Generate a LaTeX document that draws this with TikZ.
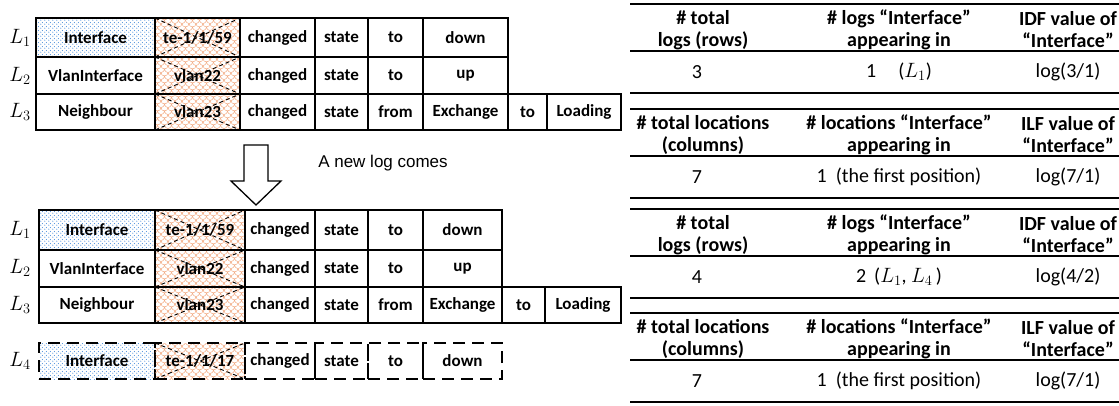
\documentclass[tikz,border=0pt]{standalone}
\usepackage{fontspec}
\setmainfont{Carlito}
\newfontfamily\arialf{Liberation Sans}
\usetikzlibrary{patterns}
\pgfdeclarepatternformonly{fishscales}{\pgfqpoint{-1pt}{-1pt}}{\pgfqpoint{8pt}{8pt}}{\pgfqpoint{7pt}{7pt}}{%
 \pgfsetlinewidth{0.5pt}%
 \pgfpathmoveto{\pgfqpoint{0pt}{3.5pt}}\pgfpatharc{180}{360}{3.5pt}%
 \pgfpathmoveto{\pgfqpoint{0pt}{3.5pt}}\pgfpatharc{270}{360}{3.5pt}\pgfpatharc{180}{270}{3.5pt}%
 \pgfusepath{stroke}}
\pgfdeclarepatternformonly{bluedotpat}{\pgfqpoint{0pt}{0pt}}{\pgfqpoint{4pt}{4pt}}{\pgfqpoint{4pt}{4pt}}{%
 \pgfpathcircle{\pgfqpoint{1pt}{1pt}}{0.7pt}%
 \pgfpathcircle{\pgfqpoint{3pt}{3pt}}{0.7pt}%
 \pgfusepath{fill}}
\definecolor{dotblue}{RGB}{80,145,220}
\definecolor{scaleorange}{RGB}{242,170,130}
\tikzset{
 cell/.style={draw, line width=2.5pt, inner sep=0pt, outer sep=0pt, font=\fontsize{17}{20}\selectfont\bfseries},
 dcell/.style={cell, dash pattern=on 12pt off 7pt},
 bluedots/.style={pattern=bluedotpat, pattern color=dotblue},
 orscales/.style={pattern=fishscales, pattern color=scaleorange},
 xdash/.style={line width=0.9pt, dash pattern=on 4pt off 3pt},
 lab/.style={font=\fontsize{20}{22}\selectfont},
 hdr/.style={align=center, font=\fontsize{20}{22}\selectfont\bfseries},
 dat/.style={font=\fontsize{20}{22}\selectfont},
 rule/.style={line width=2.6pt}
}
\newcommand{\cel}[7][]{%
 \pgfmathsetmacro\cw{#4-#3}\pgfmathsetmacro\ch{#6-#5}%
 \node[cell,minimum width=\cw pt,minimum height=\ch pt,#1] (#2) at ({(#3+#4)/2},{(#5+#6)/2}) {#7};}
\newcommand{\xcross}[1]{\draw[xdash] (#1.north west) -- (#1.south east); \draw[xdash] (#1.south west) -- (#1.north east);}
\newcommand{\rtab}[8]{%
 \draw[rule] (630,#2) -- (1119,#2);
 \draw[rule] (630,#2+47) -- (1119,#2+47);
 \draw[rule] (630,#2+89) -- (1119,#2+89);
 \node[hdr] (#1h1) at (703,#2+26) {#3};
 \node[hdr] (#1h2) at (899,#2+26) {#4};
 \node[hdr] (#1h3) at (1068,#2+26) {#5};
 \node[dat] (#1d1) at (697,#2+68) {#6};
 \node[dat] (#1d2) at (899,#2+68) {#7};
 \node[dat] (#1d3) at (1068,#2+68) {#8};}
\begin{document}
\begin{tikzpicture}[x=1pt,y=-1pt]
\useasboundingbox (0,0) rectangle (1119,405);
% ---------- top table ----------
\cel[bluedots]{a11}{36}{155}{18}{57}{Interface}
\cel[orscales]{a12}{155}{240}{18}{57}{te-1/1/59}
\cel{a13}{240}{315}{18}{57}{changed}
\cel{a14}{315}{368}{18}{57}{state}
\cel{a15}{368}{423}{18}{57}{to}
\cel{a16}{423}{508}{18}{57}{down}
\cel{a21}{36}{155}{57}{94}{VlanInterface}
\cel[orscales]{a22}{155}{240}{57}{94}{vlan22}
\cel{a23}{240}{315}{57}{94}{changed}
\cel{a24}{315}{368}{57}{94}{state}
\cel{a25}{368}{423}{57}{94}{to}
\cel{a26}{423}{508}{57}{94}{up}
\cel{a31}{36}{155}{94}{130}{Neighbour}
\cel[orscales]{a32}{155}{240}{94}{130}{vlan23}
\cel{a33}{240}{315}{94}{130}{changed}
\cel{a34}{315}{368}{94}{130}{state}
\cel{a35}{368}{423}{94}{130}{from}
\cel{a36}{423}{508}{94}{130}{Exchange}
\cel{a37}{508}{547}{94}{130}{to}
\cel{a38}{547}{621}{94}{130}{Loading}
\xcross{a12}\xcross{a22}\xcross{a32}
\node[lab] (la1) at (20,38) {$L_1$};
\node[lab] (la2) at (20,76) {$L_2$};
\node[lab] (la3) at (20,112) {$L_3$};
% ---------- arrow ----------
\draw[line width=1.3pt, fill=white] (244,145) -- (268,145) -- (268,181) -- (281,181) -- (256,205) -- (231,181) -- (244,181) -- cycle;
\node[font=\arialf\fontsize{17}{20}\selectfont] (newlog) at (383,163) {A new log comes};
% ---------- bottom table ----------
\cel[bluedots]{b11}{39}{155}{210}{250}{Interface}
\cel[orscales]{b12}{155}{245}{210}{250}{te-1/1/59}
\cel{b13}{245}{315}{210}{250}{changed}
\cel{b14}{315}{368}{210}{250}{state}
\cel{b15}{368}{423}{210}{250}{to}
\cel{b16}{423}{502}{210}{250}{down}
\cel{b21}{39}{155}{250}{287}{VlanInterface}
\cel[orscales]{b22}{155}{245}{250}{287}{vlan22}
\cel{b23}{245}{315}{250}{287}{changed}
\cel{b24}{315}{368}{250}{287}{state}
\cel{b25}{368}{423}{250}{287}{to}
\cel{b26}{423}{502}{250}{287}{up}
\cel{b31}{39}{155}{287}{323}{Neighbour}
\cel[orscales]{b32}{155}{245}{287}{323}{vlan23}
\cel{b33}{245}{315}{287}{323}{changed}
\cel{b34}{315}{368}{287}{323}{state}
\cel{b35}{368}{423}{287}{323}{from}
\cel{b36}{423}{502}{287}{323}{Exchange}
\cel{b37}{502}{545}{287}{323}{to}
\cel{b38}{545}{621}{287}{323}{Loading}
\xcross{b12}\xcross{b22}\xcross{b32}
\node[lab] (lb1) at (20,230) {$L_1$};
\node[lab] (lb2) at (20,268) {$L_2$};
\node[lab] (lb3) at (20,305) {$L_3$};
% ---------- new log ----------
\cel[dcell,bluedots]{c1}{39}{155}{343}{379}{Interface}
\cel[dcell,orscales]{c2}{155}{245}{343}{379}{te-1/1/17}
\cel[dcell]{c3}{245}{315}{343}{379}{changed}
\cel[dcell]{c4}{315}{368}{343}{379}{state}
\cel[dcell]{c5}{368}{423}{343}{379}{to}
\cel[dcell]{c6}{423}{502}{343}{379}{down}
\xcross{c2}
\node[lab] (lb4) at (20,361) {$L_4$};
% ---------- right tables ----------
\rtab{t1}{4}{\# total\\logs (rows)}{\# logs “Interface”\\appearing in}{IDF value of\\“Interface”}{3}{1\hspace{1.1em}($L_1$)}{log(3/1)}
\rtab{t2}{109}{\# total locations\\(columns)}{\# locations “Interface”\\appearing in}{ILF value of\\“Interface”}{7}{1\hspace{0.45em}(the first position)}{log(7/1)}
\rtab{t3}{209}{\# total\\logs (rows)}{\# logs “Interface”\\appearing in}{IDF value of\\“Interface”}{4}{2\hspace{0.4em}($L_1$, $L_4$\,)}{log(4/2)}
\rtab{t4}{313}{\# total locations\\(columns)}{\# locations “Interface”\\appearing in}{ILF value of\\“Interface”}{7}{1\hspace{0.45em}(the first position)}{log(7/1)}
\end{tikzpicture}
\end{document}
